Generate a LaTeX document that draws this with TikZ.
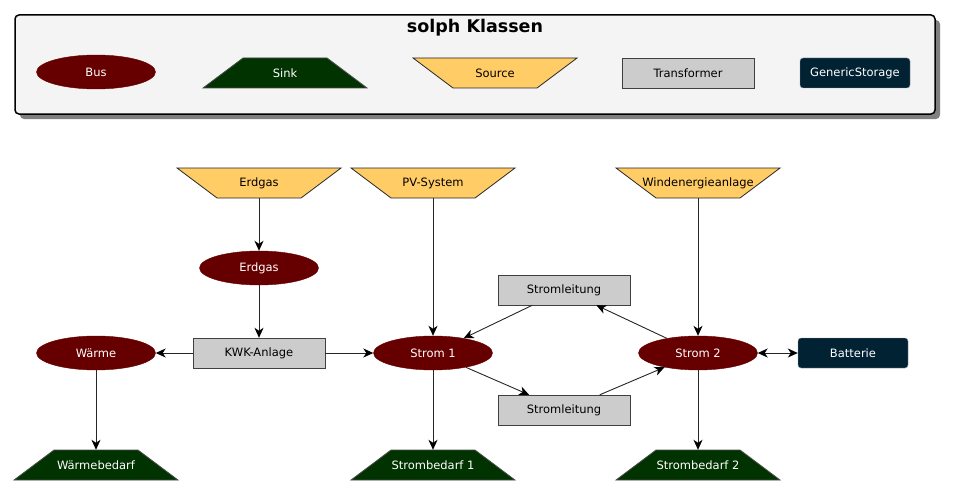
\documentclass[tikz,border=0pt]{standalone}
\usepackage{fontspec}
\setmainfont{DejaVu Sans}
\usetikzlibrary{shapes.geometric,arrows.meta}
\definecolor{busred}{HTML}{660000}
\definecolor{sinkgreen}{HTML}{003300}
\definecolor{srcyellow}{HTML}{FFCC66}
\definecolor{trafogray}{HTML}{CCCCCC}
\definecolor{storblue}{HTML}{002233}
\definecolor{legendbg}{HTML}{F4F4F4}
\tikzset{
  base/.style={font=\fontsize{11.5}{13}\selectfont, inner sep=0pt},
  bus/.style={base, ellipse, fill=busred, draw=busred, text=white, minimum width=119pt, minimum height=34pt},
  sinkshape/.style={fill=sinkgreen, draw=black!70, line width=0.8pt},
  sinktext/.style={text=white},
  sourceshape/.style={fill=srcyellow, draw=black!85, line width=0.8pt},
  sourcetext/.style={text=black},
  trafo/.style={base, rectangle, fill=trafogray, draw=black!75, minimum width=132pt, minimum height=30pt},
  storage/.style={base, rectangle, rounded corners=3pt, fill=storblue, draw=black!40, text=white, minimum width=110pt, minimum height=30pt},
  flow/.style={draw=black!85, line width=0.9pt, -{Stealth[length=10pt,width=9pt,inset=3pt,black]}},
  bothflow/.style={draw=black!85, line width=0.9pt, {Stealth[length=10pt,width=9pt,inset=3pt,black]}-{Stealth[length=10pt,width=9pt,inset=3pt,black]}},
}
% #1 shape kind (sink/source), #2 name, #3 x, #4 y, #5 text, #6 1 = wide at bottom, -1 = wide at top
\newcommand\mytrap[6]{%
  \path[#1shape] (#3-82,#4+15*#6) -- (#3+82,#4+15*#6) -- (#3+42,#4-15*#6) -- (#3-42,#4-15*#6) -- cycle;
  \node[base, minimum width=164pt, minimum height=30pt, #1text] (#2) at (#3,#4) {#5};}
\begin{document}
\begin{tikzpicture}[x=1pt,y=-1pt]
\useasboundingbox (0,0) rectangle (956,495);
% legend
\fill[black!50, rounded corners=4pt] (20,20) rectangle (940,119);
\draw[fill=legendbg, line width=1.5pt, rounded corners=4pt] (15,15) rectangle (935,114);
\node[font=\bfseries\fontsize{17.5}{20}\selectfont] (title) at (475,28) {solph Klassen};
\node[bus] (lbus) at (96,72) {Bus};
\mytrap{sink}{lsink}{285}{73}{Sink}{1}
\mytrap{source}{lsource}{495}{73}{Source}{-1}
\node[trafo] (ltrafo) at (688,73) {Transformer};
\node[storage] (lstor) at (855,73) {GenericStorage};
% nodes
\mytrap{source}{srcgas}{259}{183}{Erdgas}{-1}
\mytrap{source}{pv}{433}{183}{PV-System}{-1}
\mytrap{source}{wind}{698}{183}{Windenergieanlage}{-1}
\node[bus] (busgas) at (259,268) {Erdgas};
\node[trafo] (kwk) at (259,353) {KWK-Anlage};
\node[bus] (waerme) at (96,353) {Wärme};
\node[bus] (s1) at (433,353) {Strom 1};
\node[bus] (s2) at (698,353) {Strom 2};
\node[storage] (batt) at (853,353) {Batterie};
\node[trafo] (slt) at (564,290) {Stromleitung};
\node[trafo] (slb) at (564,410) {Stromleitung};
\mytrap{sink}{wb}{96}{465}{Wärmebedarf}{1}
\mytrap{sink}{sb1}{433}{465}{Strombedarf 1}{1}
\mytrap{sink}{sb2}{698}{465}{Strombedarf 2}{1}
% edges
\draw[flow] (srcgas) -- (busgas);
\draw[flow] (busgas) -- (kwk);
\draw[flow] (kwk) -- (waerme);
\draw[flow] (kwk) -- (s1);
\draw[flow] (pv) -- (s1);
\draw[flow] (wind) -- (s2);
\draw[flow] (slt) -- (s1);
\draw[flow] (s2) -- (slt);
\draw[flow] (s1) -- (slb);
\draw[flow] (slb) -- (s2);
\draw[bothflow] (s2) -- (batt);
\draw[flow] (waerme) -- (wb);
\draw[flow] (s1) -- (sb1);
\draw[flow] (s2) -- (sb2);
\end{tikzpicture}
\end{document}
